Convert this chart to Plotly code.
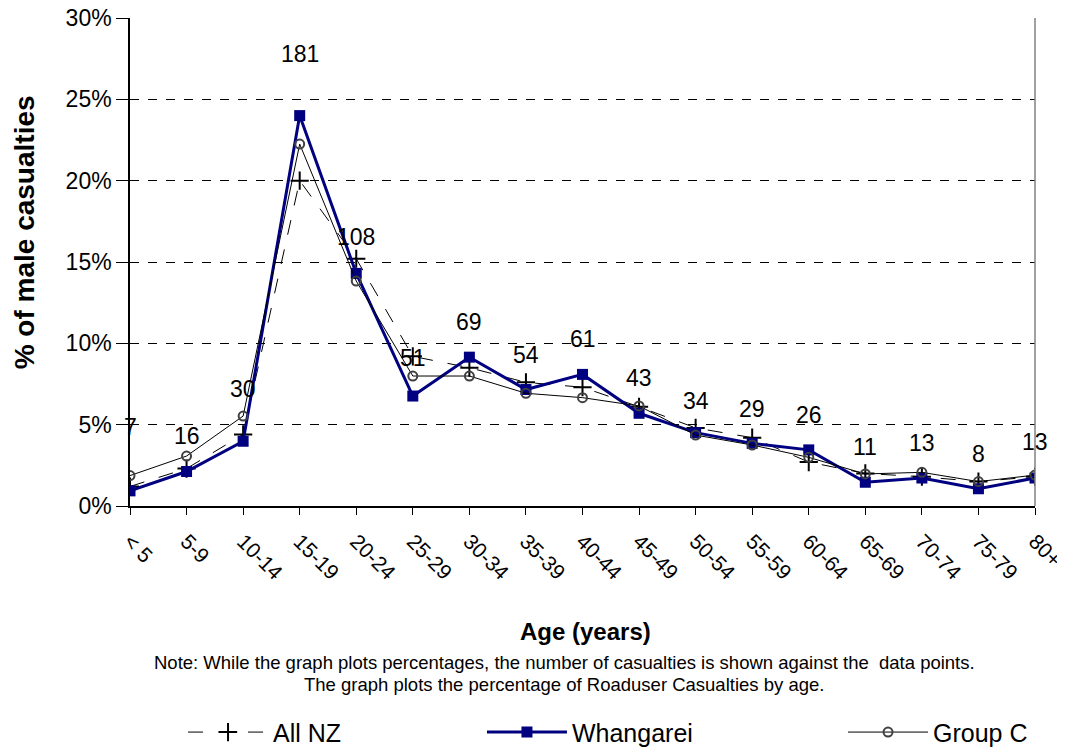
import plotly.graph_objects as go

categories = ["< 5", "5-9", "10-14", "15-19", "20-24", "25-29", "30-34", "35-39",
              "40-44", "45-49", "50-54", "55-59", "60-64", "65-69", "70-74", "75-79", "80+"]

all_nz = [1.2, 2.3, 4.4, 20.0, 15.2, 9.2, 8.5, 7.6, 7.3, 6.1, 4.8, 4.2, 2.7, 2.0, 1.8, 1.5, 1.8]
whangarei = [0.93, 2.12, 3.98, 24.0, 14.3, 6.76, 9.15, 7.16, 8.09, 5.70, 4.51, 3.85, 3.45, 1.46, 1.72, 1.06, 1.72]
group_c = [1.87, 3.07, 5.53, 22.25, 13.83, 7.99, 7.99, 6.93, 6.66, 6.15, 4.36, 3.75, 2.99, 1.97, 2.07, 1.50, 1.90]
counts = [7, 16, 30, 181, 108, 51, 69, 54, 61, 43, 34, 29, 26, 11, 13, 8, 13]
label_shift = [64, 36, 52, 62, 36, 38, 35, 35, 35, 35, 32, 34, 35, 35, 35, 35, 36]

y_ticks = [0, 5, 10, 15, 20, 25, 30]
y_tick_text = ["0%", "5%", "10%", "15%", "20%", "25%", "30%"]

FONT = "Arial, Liberation Sans, sans-serif"

fig = go.Figure()
fig.add_trace(go.Scatter(
    x=categories, y=all_nz, name="All NZ", mode="lines+markers", legend="legend",
    line=dict(color="black", width=1, dash="longdash"),
    marker=dict(symbol="cross-thin", size=13, line=dict(color="black", width=2)),
))
fig.add_trace(go.Scatter(
    x=categories, y=whangarei, name="Whangarei", mode="lines+markers", legend="legend2",
    line=dict(color="#000080", width=3),
    marker=dict(symbol="square", size=11, color="#000080"),
))
fig.add_trace(go.Scatter(
    x=categories, y=group_c, name="Group C", mode="lines+markers", legend="legend3",
    line=dict(color="black", width=1),
    marker=dict(symbol="circle-open", size=9, color="#404040", line=dict(width=2)),
))

for cat, val, cnt, sh in zip(categories, whangarei, counts, label_shift):
    fig.add_annotation(x=cat, y=val, text=str(cnt), showarrow=False, yshift=sh,
                       font=dict(family=FONT, size=23, color="black"))

# axis titles
fig.add_annotation(x=0.503, y=-0.258, xref="paper", yref="paper", showarrow=False,
                   xanchor="center", yanchor="middle",
                   text="<b>Age (years)</b>", font=dict(family=FONT, size=24, color="black"))
fig.add_annotation(x=-0.117, y=0.561, xref="paper", yref="paper", showarrow=False, textangle=-90,
                   xanchor="center", yanchor="middle",
                   text="<b>% of male casualties</b>", font=dict(family=FONT, size=28, color="black"))

note_lines = [
    "Note: While the graph plots percentages, the number of casualties is shown against the  data points.",
    "The graph plots the percentage of Roaduser Casualties by age.",
]
for line, yy in zip(note_lines, [-0.3217, -0.3668]):
    fig.add_annotation(x=0.48, y=yy, xref="paper", yref="paper", showarrow=False,
                       xanchor="center", yanchor="middle", text=line,
                       font=dict(family=FONT, size=18.5, color="black"))

fig.add_shape(type="line", xref="paper", yref="paper", x0=1, x1=1, y0=0, y1=1,
              line=dict(color="#808080", width=1.5))

legend_common = dict(orientation="h", xref="container", xanchor="left",
                     yref="container", y=0.0225, yanchor="middle",
                     font=dict(size=25), itemwidth=80, bgcolor="rgba(0,0,0,0)")

fig.update_layout(
    width=1057, height=741,
    margin=dict(l=122, r=30, t=10, b=243, autoexpand=False),
    plot_bgcolor="white", paper_bgcolor="white",
    font=dict(family=FONT, color="black"),
    showlegend=True,
    legend=dict(x=0.1656, **legend_common),
    legend2=dict(x=0.4484, **legend_common),
    legend3=dict(x=0.790, **legend_common),
    xaxis=dict(
        range=[0, 16], showline=True, linecolor="black", linewidth=2,
        ticks="outside", ticklen=7, tickcolor="black", tickangle=45,
        tickfont=dict(size=21), showgrid=False, zeroline=False, automargin=False,
        ticklabelstandoff=6, ticklabeloverflow="allow",
    ),
    yaxis=dict(
        range=[0, 30], tickvals=y_ticks, ticktext=y_tick_text,
        showline=True, linecolor="black", linewidth=1.5,
        ticks="outside", ticklen=12, tickcolor="black", tickfont=dict(size=23),
        showgrid=True, gridcolor="black", gridwidth=1, griddash="dash",
        zeroline=False, automargin=False, ticklabeloverflow="allow",
    ),
)

fig.write_html("out.html")
